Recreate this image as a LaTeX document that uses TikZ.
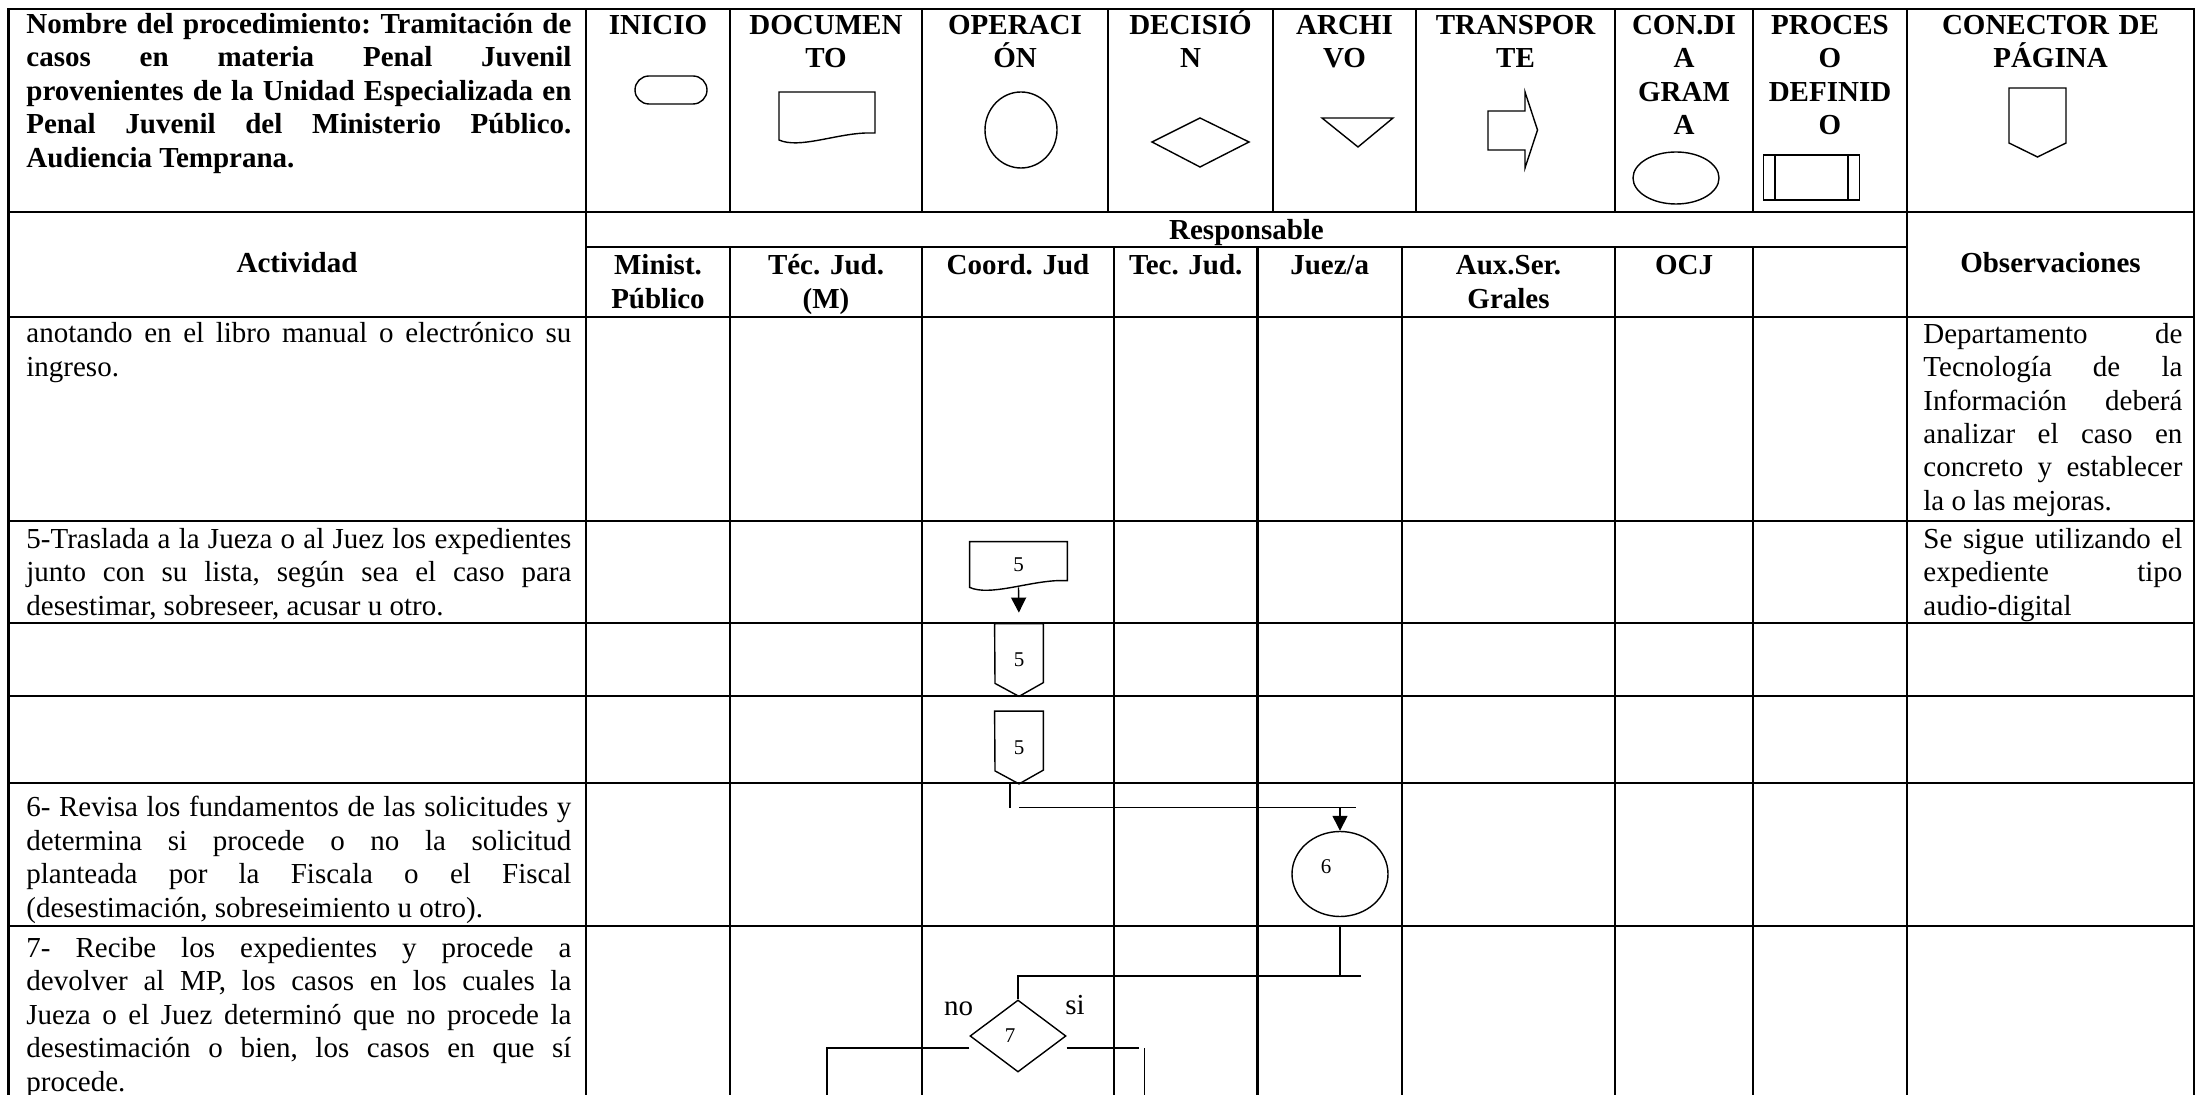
\documentclass[tikz,border=0pt]{standalone}
\usepackage{fontspec}
\setmainfont{Liberation Serif}
\usepackage{tikz}
\usetikzlibrary{positioning,arrows.meta,shapes.geometric}
\newcommand{\letra}{\fontsize{14.5}{16.7}\selectfont}
\newcommand{\letrachica}{\fontsize{10.5}{12}\selectfont}
\frenchspacing

\begin{document}
\begin{tikzpicture}[
  x=0.5pt, y=-0.5pt,
  font=\letra,
  tabla/.style={line width=1.1pt, line cap=rect},
  figura/.style={draw, line width=0.7pt},
  linea/.style={line width=0.7pt},
  flecha/.style={linea, -{Triangle[length=7.5pt,width=7.5pt]}},
  titulo/.style={font=\letra\bfseries, anchor=base, align=center, inner sep=0pt, text width=#1},
  texto/.style={anchor=base west, align=justify, inner sep=0pt, text width=#1},
  marca/.style={inner sep=0pt, font=\letrachica}
]
\useasboundingbox (0,0) rectangle (2196,1095);
\draw[tabla] (8.5,1095) -- (8.5,9) -- (2194,9) -- (2194,1095);
\foreach \y in {212,317,521,623,696,783,926}
  \draw[tabla] (8.5,\y) -- (2194,\y);
\draw[tabla] (586,247) -- (1907,247);
\foreach \x in {586,1907}
  \draw[tabla] (\x,9) -- (\x,1095);
\foreach \x in {730,922,1108,1273,1416,1615,1753}
  \draw[tabla] (\x,9) -- (\x,212);
\foreach \x in {730,922,1114,1257.5,1402,1615,1753}
  \draw[tabla] (\x,247) -- (\x,1095);

\node[texto=272.5pt, font=\letra\bfseries] (nombre) at (26,33.5) {Nombre del procedimiento: Tramitación de\linebreak casos en materia Penal Juvenil\linebreak provenientes de la Unidad Especializada en\linebreak Penal Juvenil del Ministerio Público.\linebreak Audiencia Temprana.};
\node[titulo=67pt] (inicio) at (658,34.5) {INICIO};
\node[titulo=91pt] (documento) at (826,34.5) {DOCUMEN\\TO};
\node[titulo=88pt] (operacion) at (1015,34.5) {OPERACI\\ÓN};
\node[titulo=78pt] (decision) at (1190.5,34.5) {DECISIÓ\\N};
\node[titulo=66pt] (archivo) at (1344.5,34.5) {ARCHI\\VO};
\node[titulo=94pt] (transporte) at (1515.5,34.5) {TRANSPOR\\TE};
\node[titulo=64pt] (condiagrama) at (1684,34.5) {CON.DI\\A\\GRAM\\A};
\node[titulo=72pt] (procdef) at (1830,34.5) {PROCES\\O\\DEFINID\\O};
\node[titulo=138pt] (conector) at (2050.5,34.5) {CONECTOR DE\\PÁGINA};

\draw[figura, rounded corners=7pt] (635,76) rectangle (707,104);
\draw[figura] (779,92) -- (875,92) -- (875,133) -- (866,133) .. controls (835,134) and (799,149) .. (779,140) -- cycle;
\draw[figura] (1021,130) ellipse [x radius=18pt, y radius=19pt];
\draw[figura] (1152,142) -- (1200,118) -- (1249,142) -- (1200,167) -- cycle;
\draw[figura] (1322,118) -- (1393,118) -- (1358,147) -- cycle;
\draw[figura] (1488,111) -- (1525,111) -- (1525,92) -- (1537.5,130) -- (1525,168) -- (1525,150) -- (1488,150) -- cycle;
\draw[figura] (1676,178) ellipse [x radius=21.5pt, y radius=13pt];
\draw[figura] (1763.5,155) rectangle (1859.5,200);
\draw[figura] (1775,155) -- (1775,200) (1848,155) -- (1848,200);
\draw[figura] (2009,88) -- (2066,88) -- (2066,143) -- (2037.5,157) -- (2009,143) -- cycle;

\node[titulo=280pt] (actividad) at (297,273) {Actividad};
\node[titulo=300pt] (responsable) at (1246.5,240) {Responsable};
\node[titulo=138pt] (observaciones) at (2050.5,273) {Observaciones};
\node[titulo=67pt] (ministerio) at (658,275) {Minist.\\Público};
\node[titulo=91pt] (tecm) at (826,275) {Téc. Jud.\\(M)};
\node[titulo=91pt] (coordinador) at (1018,275) {Coord. Jud};
\node[titulo=67pt] (tecnico) at (1185.75,275) {Tec. Jud.};
\node[titulo=67pt] (juez) at (1329.75,275) {Juez/a};
\node[titulo=101pt] (auxiliar) at (1508.5,275) {Aux.Ser.\\Grales};
\node[titulo=64pt] (ocj) at (1684,275) {OCJ};

\node[texto=272.5pt] (paso4) at (26,342.7) {anotando en el  libro manual  o electrónico su\linebreak ingreso.};
\node[texto=129.5pt] (obs4) at (1923,343.3) {Departamento de\linebreak Tecnología de la\linebreak Información deberá\linebreak analizar el caso en\linebreak concreto y establecer\linebreak la o las  mejoras.};
\node[texto=272.5pt] (paso5) at (26,548.3) {5-Traslada a la Jueza o al Juez los expedientes\linebreak junto con su lista, según sea el caso para\linebreak desestimar, sobreseer, acusar u otro.};
\node[texto=129.5pt] (obs5) at (1923,548.3) {Se sigue utilizando el\linebreak expediente tipo\linebreak audio-digital};
\node[texto=272.5pt] (paso6) at (26,817) {6- Revisa los fundamentos de las solicitudes y\linebreak determina si procede o no la solicitud\linebreak planteada por la Fiscala o el Fiscal\linebreak (desestimación,  sobreseimiento u otro).};
\node[texto=272.5pt] (paso7) at (26,957.5) {7- Recibe los expedientes y procede a\linebreak devolver al MP,  los casos  en los cuales la\linebreak Jueza o el Juez determinó que no procede la\linebreak desestimación o bien, los casos en que sí\linebreak procede.};

\node[marca, minimum width=48.5pt, minimum height=22.5pt] (doc5) at (1018.5,564.5) {5};
\draw[figura] (doc5.north west) -- (doc5.north east) -- ++(0,39) -- ++(-9,0) .. controls +(-31,1) and +(20,9) .. (doc5.south west) -- cycle;
\node[marca, minimum width=24pt, minimum height=36pt] (off5a) at (1019,660) {5};
\draw[figura] (off5a.north west) -- (off5a.north east) -- ++(0,59) -- (off5a.south) -- ++(-24,-13) -- cycle;
\node[marca, minimum width=24pt, minimum height=36pt] (off5b) at (1019,747.5) {5};
\draw[figura] (off5b.north west) -- (off5b.north east) -- ++(0,59) -- (off5b.south) -- ++(-24,-13) -- cycle;
\node[figura, marca, ellipse, minimum width=48pt, minimum height=42.5pt] (op6) at (1340,874) {\raisebox{7pt}{6}\rule{14pt}{0pt}};
\node[figura, marca, diamond, minimum width=48pt, minimum height=36pt] (dec7) at (1018,1036) {7\rule{8pt}{0pt}};
\node[inner sep=0pt] (no) at (958.5,1009) {no};
\node[inner sep=0pt] (si) at (1075,1005) {si};

\coordinate (codo6) at (1356,807.5);
\coordinate (codo7) at (1361,976);
\coordinate (sitop) at (1144.5,1048);
\coordinate (finsi) at (1144.5,1095);
\coordinate (finno) at (827,1095);
\draw[flecha, shorten >=5.5pt] (doc5.south) -- (off5a.north);
\draw[linea] ([xshift=-4.5pt]off5b.south) -- ++(0,24);
\draw[linea] (off5b.south |- codo6) -- (codo6);
\draw[flecha] (op6.north |- codo6) -- (op6.north);
\draw[linea, shorten <=5pt] (op6.south) -- (op6.south |- codo7);
\draw[linea] (codo7) -| (dec7.north);
\draw[linea] ([yshift=-6pt]dec7.west) -| (finno);
\draw[linea] ([yshift=-6pt]dec7.east) -- ++(72,0);
\draw[linea] (sitop) -- (finsi);
\end{tikzpicture}
\end{document}
